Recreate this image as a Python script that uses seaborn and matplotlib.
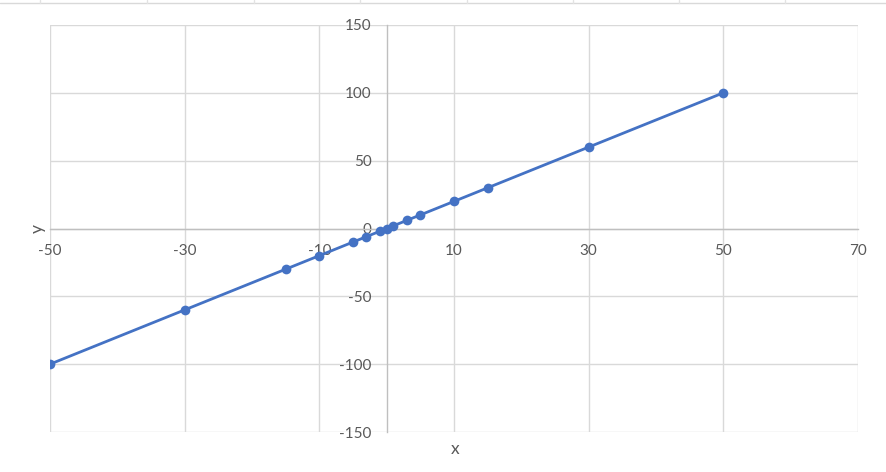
import matplotlib
matplotlib.use("Agg")
import matplotlib.pyplot as plt
import seaborn as sns
import pandas as pd
from matplotlib.lines import Line2D

x_vals = [-50, -30, -15, -10, -5, -3, -1, 0, 1, 3, 5, 10, 15, 30, 50]
y_vals = [-100, -60, -30, -20, -10, -6, -2, 0, 2, 6, 10, 20, 30, 60, 100]
x_ticks = [-50, -30, -10, 10, 30, 50, 70]
y_ticks = [-150, -100, -50, 0, 50, 100, 150]

df = pd.DataFrame({"x": x_vals, "y": y_vals})

sns.set_style("white")
plt.rcParams["font.family"] = ["Lato", "DejaVu Sans"]
plt.rcParams["axes.unicode_minus"] = False

fig = plt.figure(figsize=(8.86, 4.72), dpi=100)
W, H = 886, 472
ax = fig.add_axes([50 / W, (H - 432) / H, (858 - 50) / W, (432 - 25) / H])

sns.lineplot(data=df, x="x", y="y", ax=ax, color="#4472C4", linewidth=2,
             marker="o", markersize=7, markeredgewidth=0, sort=False, zorder=5)

ax.set_xlim(-50, 70)
ax.set_ylim(-150, 150)
ax.set_xticks(x_ticks)
ax.set_yticks(y_ticks)
ax.grid(True, color="#D9D9D9", linewidth=1)
ax.set_axisbelow(True)

for s in ["top", "right"]:
    ax.spines[s].set_visible(False)
ax.spines["left"].set_position(("data", 0))
ax.spines["bottom"].set_position(("data", 0))
for s in ["left", "bottom"]:
    ax.spines[s].set_color("#BFBFBF")
    ax.spines[s].set_linewidth(1)
    ax.spines[s].set_zorder(2)

ax.tick_params(axis="x", length=0, pad=11.5, labelsize=11, labelcolor="#595959")
ax.tick_params(axis="y", length=0, pad=11, labelsize=11, labelcolor="#595959")
ax.set_xlabel("")
ax.set_ylabel("")

fig.text(38 / W, 1 - 228 / H, "y", rotation=90, ha="center", va="center",
         fontsize=12.5, color="#595959")
fig.text(455 / W, 1 - 449 / H, "x", ha="center", va="center",
         fontsize=12.5, color="#595959")

# faint sheet border line at top
fig.add_artist(Line2D([0, 1], [1 - 3 / H, 1 - 3 / H], transform=fig.transFigure,
                      color="#D9D9D9", linewidth=1))
for px in [40, 147, 254, 360, 467, 573, 679, 785]:
    fig.add_artist(Line2D([px / W, px / W], [1 - 3 / H, 1], transform=fig.transFigure,
                          color="#E3E3E3", linewidth=1))

fig.savefig("out.png", dpi=100)
